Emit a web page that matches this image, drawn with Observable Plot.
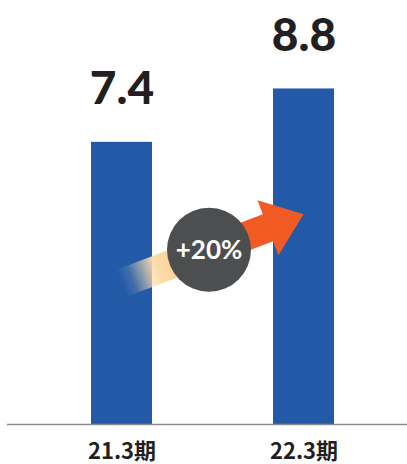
<!DOCTYPE html>
<html>
<head>
<meta charset="utf-8">
<script src="https://cdn.jsdelivr.net/npm/d3@7"></script>
<script src="https://cdn.jsdelivr.net/npm/@observablehq/plot@0.6"></script>
<style>
  html, body { margin: 0; padding: 0; background: #fff; }
  #chart svg { display: block; }
</style>
</head>
<body>
<div id="chart"></div>
<script>
// ---- data ----
const periods = ["21.3期", "22.3期"];
const values = [7.4, 8.8];
const valueLabels = ["7.4", "8.8"];
// growth arrow: from first period to second period (value-axis positions)
const arrowFrom = ["21.3期", 3.69];
const arrowTo = ["22.3期", 5.5];
const badgeValue = 4.57;
const badgeLabel = "+20%";

const data = periods.map((p, i) => ({period: p, value: values[i], label: valueLabels[i]}));

const BLUE = "#225aa8";
const ORANGE = "#f15a22";

function center(x, v) {
  const bw = typeof x.bandwidth === "function" ? x.bandwidth() : 0;
  return x(v) + bw / 2;
}

function growthMark(index, scales) {
  const x = scales.x, y = scales.y;
  const sx = center(x, arrowFrom[0]), sy = y(arrowFrom[1]);
  const tx = center(x, arrowTo[0]), ty = y(arrowTo[1]);
  const dx = tx - sx, dy = ty - sy, L = Math.hypot(dx, dy);
  const ux = dx / L, uy = dy / L, nx = -uy, ny = ux;
  const sw = 14.5, hw = 29.5, hl = 38;
  const bx = tx - ux * hl, by = ty - uy * hl;
  const pts = [
    [sx + nx * sw, sy + ny * sw],
    [bx + nx * sw, by + ny * sw],
    [bx + nx * hw, by + ny * hw],
    [tx, ty],
    [bx - nx * hw, by - ny * hw],
    [bx - nx * sw, by - ny * sw],
    [sx - nx * sw, sy - ny * sw]
  ];
  const g = d3.create("svg:g");
  const grad = g.append("defs").append("linearGradient")
    .attr("id", "growthGrad").attr("gradientUnits", "userSpaceOnUse")
    .attr("x1", sx).attr("y1", sy).attr("x2", tx).attr("y2", ty);
  [[0, "#fde3b5", 0], [0.06, "#fde3b5", 0.15], [0.2, "#fddcaa", 1], [0.32, "#fbcb90", 1], [0.62, ORANGE, 1], [1, ORANGE, 1]]
    .forEach(([o, c, a]) => grad.append("stop").attr("offset", o).attr("stop-color", c).attr("stop-opacity", a));
  g.append("path").attr("d", "M" + pts.map(p => p.join(",")).join("L") + "Z").attr("fill", "url(#growthGrad)");
  const cx = (center(x, periods[0]) + center(x, periods[1])) / 2 - 3.5, cy = y(badgeValue);
  g.append("circle").attr("cx", cx).attr("cy", cy).attr("r", 42).attr("fill", "#4d4e50");
  g.append("text").attr("x", cx).attr("y", cy + 9).attr("text-anchor", "middle")
    .attr("fill", "#fff").attr("font-family", "Lato, 'Open Sans', sans-serif")
    .attr("font-weight", 700).attr("font-size", 26).text(badgeLabel);
  return g.node();
}

const chart = Plot.plot({
  width: 407,
  height: 464,
  marginTop: 0,
  marginBottom: 40,
  marginLeft: 7,
  marginRight: 0,
  style: {background: "#fff", overflow: "visible"},
  x: {domain: periods, paddingInner: 0.665, paddingOuter: 0.4314, align: 0.535, label: null},
  y: {domain: [0, 11.12], axis: null},
  marks: [
    Plot.barY(data, {x: "period", y: "value", fill: BLUE}),
    Plot.ruleY([0], {stroke: "#8c8c8c", strokeWidth: 1.5}),
    Plot.text(data, {
      x: "period", y: "value", text: "label", dy: -38, lineAnchor: "bottom",
      fontSize: 46, fontWeight: 900, fill: "#231f20",
      fontFamily: "Lato, 'Open Sans', sans-serif", letterSpacing: "1px"
    }),
    Plot.axisX({
      tickSize: 0, tickPadding: 19, fontSize: 22, fontWeight: 700,
      fontFamily: "'Noto Sans CJK JP', sans-serif", fill: "#231f20", label: null
    }),
    growthMark
  ]
});
document.getElementById("chart").appendChild(chart);
</script>
</body>
</html>
